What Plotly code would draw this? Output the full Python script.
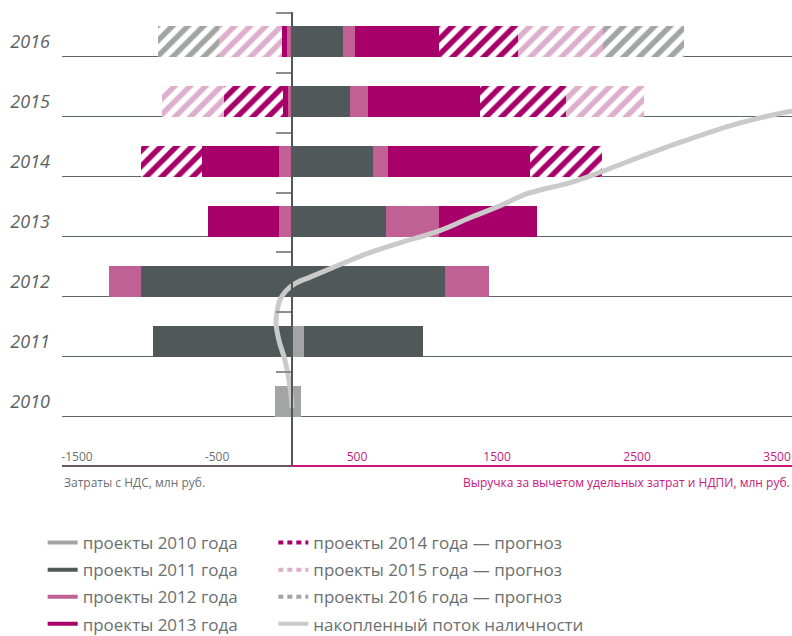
import plotly.graph_objects as go

# rows of the chart
years = [2010, 2011, 2012, 2013, 2014, 2015, 2016]

# costs (negative) and revenue (positive) by project vintage, млн руб.
neg_2010 = [-121, 0, 0, 0, 0, 0, 0]
pos_2010 = [64, 86, 0, 0, 0, 0, 0]
neg_2011 = [0, -993, -1079, 0, 0, 0, 0]
pos_2011 = [0, 850, 1093, 671, 579, 414, 364]
neg_2012 = [0, 0, -229, -93, -93, -29, -36]
pos_2012 = [0, 0, 314, 379, 107, 129, 86]
neg_2013 = [0, 0, 0, -507, -550, -36, -36]
pos_2013 = [0, 0, 0, 700, 1014, 800, 600]
neg_2014f = [0, 0, 0, 0, -436, -421, 0]
pos_2014f = [0, 0, 0, 0, 514, 614, 564]
neg_2015f = [0, 0, 0, 0, 0, -443, -450]
pos_2015f = [0, 0, 0, 0, 0, 557, 607]
neg_2016f = [0, 0, 0, 0, 0, 0, -436]
pos_2016f = [0, 0, 0, 0, 0, 0, 579]

# accumulated cash flow line
cash_x = [0, -14, -50, -93, -114, -110, -86, -43, 21, 129, 293, 536, 771,
          1050, 1271, 1486, 1679, 2036, 2607, 3200, 3571]
cash_y = [2009.89, 2010.23, 2010.68, 2011.01, 2011.29, 2011.45, 2011.69,
          2011.84, 2011.96, 2012.07, 2012.23, 2012.46, 2012.64, 2012.84,
          2013.06, 2013.26, 2013.46, 2013.68, 2014.18, 2014.64, 2014.84]

x_ticks = [-1500, -500, 500, 1500, 2500, 3500]

C2010 = "#a3a5a4"
C2011 = "#505859"
C2012 = "#c06094"
C2013 = "#a8006a"
C2015 = "#ddafcb"
MAG = "#c8177e"
GRID = "#5f6566"
TXT = "#6b6f70"
FONT = "Open Sans, Lato, sans-serif"

x_min, x_max = -1643, 3571
bar_w = 0.52

groups = [
    ("проекты 2010 года", neg_2010, pos_2010, C2010, False),
    ("проекты 2011 года", neg_2011, pos_2011, C2011, False),
    ("проекты 2012 года", neg_2012, pos_2012, C2012, False),
    ("проекты 2013 года", neg_2013, pos_2013, C2013, False),
    ("проекты 2014 года — прогноз", neg_2014f, pos_2014f, C2013, True),
    ("проекты 2015 года — прогноз", neg_2015f, pos_2015f, C2015, True),
    ("проекты 2016 года — прогноз", neg_2016f, pos_2016f, C2010, True),
]

fig = go.Figure()

for name, neg, pos, color, hatched in groups:
    for vals in (neg, pos):
        if hatched:
            marker = dict(color="white", line_width=0,
                          pattern=dict(shape="/", fgcolor=color, bgcolor="white",
                                       size=11, solidity=0.5, fillmode="replace"))
        else:
            marker = dict(color=color, line_width=0)
        fig.add_trace(go.Bar(x=vals, y=years, orientation="h", width=bar_w,
                             marker=marker, name=name, showlegend=False,
                             hoverinfo="skip"))

# cash flow sits on the overlay axis that also draws the zero line
fig.add_trace(go.Scatter(x=cash_x, y=cash_y, yaxis="y2", mode="lines",
                         line_shape="spline", line=dict(color="#cacaca", width=5),
                         showlegend=False, hoverinfo="skip"))

# legend entries: actual projects in the left column, forecasts in the right one
for i, (name, _, _, color, hatched) in enumerate(groups):
    fig.add_trace(go.Scatter(x=[None], y=[None], mode="lines", name=name,
                             legend="legend2" if hatched else "legend",
                             legendgroup=f"g{i}",
                             line=dict(color=color, width=4,
                                       dash="5px,4px" if hatched else "solid")))
fig.add_trace(go.Scatter(x=[None], y=[None], mode="lines",
                         name="накопленный поток наличности", legend="legend2",
                         legendgroup="cash",
                         line=dict(color="#cacaca", width=4)))

y_range = [2008.92, 2016.49]
tick_text = [f'<span style="color:{MAG if v > 0 else TXT}">{v}</span>' for v in x_ticks]

legend_style = dict(orientation="v", yref="container", y=0.1745, yanchor="top",
                    xanchor="left", itemwidth=30,
                    font=dict(size=17, color=TXT, family=FONT),
                    tracegroupgap=2, traceorder="grouped", bgcolor="rgba(0,0,0,0)")

fig.update_layout(
    width=792, height=636,
    margin=dict(l=62, r=0, t=12, b=170),
    paper_bgcolor="white", plot_bgcolor="white",
    barmode="relative", bargap=0,
    font=dict(family=FONT, color=TXT),
    xaxis=dict(range=[x_min, x_max], tickvals=x_ticks, ticktext=tick_text,
               ticklabelposition="inside", ticklabeloverflow="allow",
               ticklabelshift=-5, ticks="", showgrid=False,
               zeroline=False, showline=False, tickfont=dict(size=12)),
    yaxis=dict(range=y_range, tickvals=years, ticktext=[str(y) for y in years],
               showgrid=False, zeroline=False, showline=False, ticks="",
               tickfont=dict(size=18, style="italic", color="#5b6163"),
               ticklabelstandoff=11,
               minor=dict(tickvals=[y - bar_w / 2 for y in years], showgrid=True,
                          gridcolor=GRID, gridwidth=1.2)),
    yaxis2=dict(range=y_range, overlaying="y", anchor="free",
                position=(0 - x_min) / (x_max - x_min),
                tickvals=[y + 0.48 for y in years], showticklabels=False,
                ticks="outside", ticklen=15, tickwidth=1.5, tickcolor="#8a8f90",
                showline=True, linecolor=C2011, linewidth=1.5,
                showgrid=False, zeroline=False, layer="above traces"),
    legend=dict(x=-0.0265, **legend_style),
    legend2=dict(x=0.2895, **legend_style),
    shapes=[
        dict(type="line", xref="x", yref="paper", x0=x_min, x1=0, y0=0, y1=0,
             line=dict(color="#6b5866", width=2)),
        dict(type="line", xref="x", yref="paper", x0=0, x1=x_max, y0=0, y1=0,
             line=dict(color=MAG, width=2)),
    ],
    annotations=[
        dict(text="Затраты с НДС, млн руб.", xref="paper", yref="paper",
             x=0, y=-0.014, xanchor="left", yanchor="top", showarrow=False,
             font=dict(size=12, color=TXT)),
        dict(text="Выручка за вычетом удельных затрат и НДПИ, млн руб.",
             xref="paper", yref="paper", x=1, y=-0.014, xanchor="right",
             yanchor="top", showarrow=False, font=dict(size=12, color=MAG)),
    ],
)

# drop the default page margin so the 792x636 figure fills the window exactly
fig.write_html("out.html", config={"displayModeBar": False},
               post_script="document.body.style.margin='0';"
                           "document.body.style.overflow='hidden';")
